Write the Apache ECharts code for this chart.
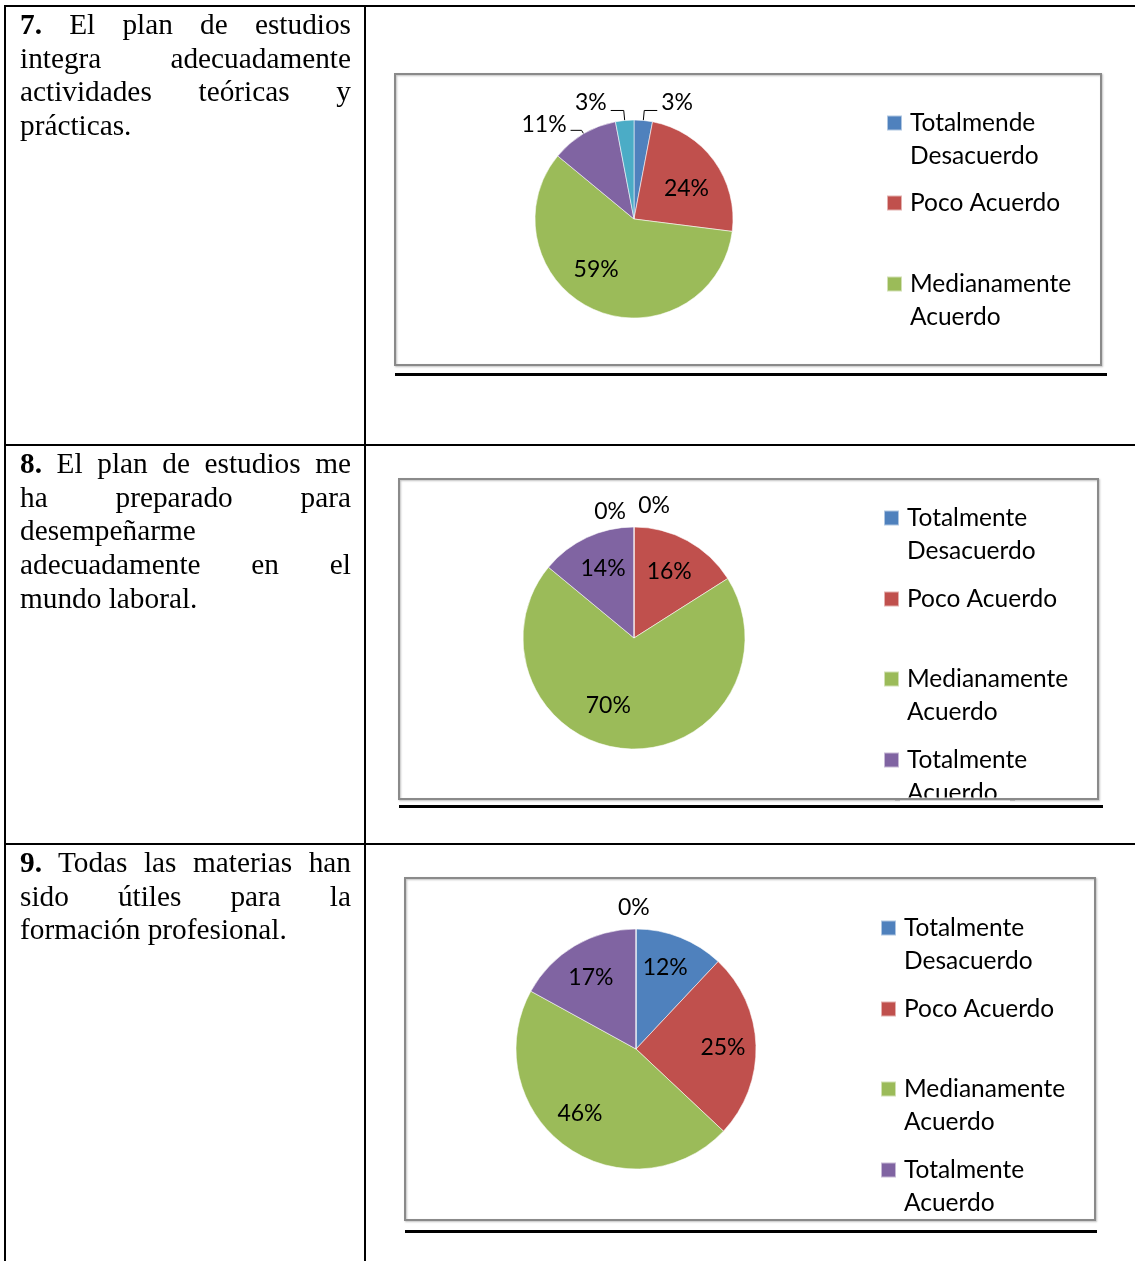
<!DOCTYPE html>
<html><head><meta charset="utf-8">
<script src="https://cdn.jsdelivr.net/npm/echarts@6/dist/echarts.min.js"></script>
<style>
html,body{margin:0;padding:0;background:#fff;}
#chart{position:absolute;left:0;top:0;width:1135px;height:1261px;}
.q{position:absolute;left:20px;width:331px;font-family:"Liberation Serif","Times New Roman",serif;font-size:29.3px;line-height:33.7px;color:#000;z-index:5;}
.q div{text-align:justify;text-align-last:justify;}
.q div.l{text-align:left;text-align-last:left;}
</style>
</head><body>
<div id="chart"></div>
<div class="q" style="top:8px">
<div><b>7.</b> El plan de estudios</div>
<div>integra adecuadamente</div>
<div>actividades teóricas y</div>
<div class="l">prácticas.</div>
</div>
<div class="q" style="top:447px">
<div><b>8.</b> El plan de estudios me</div>
<div>ha preparado para</div>
<div class="l">desempeñarme</div>
<div>adecuadamente en el</div>
<div class="l">mundo laboral.</div>
</div>
<div class="q" style="top:846px">
<div><b>9.</b> Todas las materias han</div>
<div>sido útiles para la</div>
<div class="l">formación profesional.</div>
</div>
<script>
// ---- data ----
const categories7 = ['Totalmende Desacuerdo','Poco Acuerdo','Medianamente Acuerdo','Totalmente Acuerdo','No responde'];
const categories = ['Totalmente Desacuerdo','Poco Acuerdo','Medianamente Acuerdo','Totalmente Acuerdo','No responde'];
const values7 = [3, 24, 59, 11, 3];
const values8 = [0, 16, 70, 14, 0];
const values9 = [12, 25, 46, 17, 0];
const colors = ['#4F81BD','#C0504D','#9BBB59','#8064A2','#4BACC6'];

// ---- styling helpers ----
const FONT = 'Lato';
const nudge7 = [null, [10,0], [-17,2], null, null];
const nudge8 = [[40,-21],[7,-15],[-22,9],[-6,-16],[-4,-15]];
const nudge9 = [[6,-23],[24,1],[-19,14],[-13,-17],[-22,-21]];

function makeData(names, values, outsideCfg) {
  return values.map((v, i) => {
    const d = { name: names[i], value: v, itemStyle: { color: colors[i] } };
    const o = outsideCfg[i];
    if (o) {
      d.label = { position: 'outside', distanceToLabelLine: 4 };
      if (o.lift) { d.label.formatter = '{c}%\n'; d.label.lineHeight = o.lift * 2; }
      d.labelLine = { show: o.line, length: o.len, length2: o.len2 };
    }
    return d;
  });
}
function pieSeries(center, radius, data, nudge) {
  return {
    type: 'pie', center: center, radius: radius, startAngle: 90, clockwise: true,
    avoidLabelOverlap: false, animation: false,
    itemStyle: { borderColor: 'rgba(255,255,255,0.55)', borderWidth: 1 },
    label: { show: true, position: 'inside', formatter: '{c}%', color: '#000', fontFamily: FONT, fontSize: 23 },
    labelLine: { show: true, lineStyle: { color: '#000', width: 1 } },
    emphasis: { disabled: true },
    labelLayout: function (p) { const n = nudge[p.dataIndex]; return n ? { dx: n[0], dy: n[1] } : undefined; },
    data: data
  };
}
function legendItems(names, labels, left, tops) {
  return tops.map((t, i) => {
    const twoLine = labels[i].indexOf('\n') >= 0;
    const txt = twoLine ? '\n' + labels[i] : labels[i];
    return {
      data: [names[i]], orient: 'vertical', left: left, top: t, padding: 0,
      icon: 'rect', itemWidth: 15, itemHeight: 15, selectedMode: false,
      formatter: () => txt,
      textStyle: { fontFamily: FONT, fontSize: 24.5, lineHeight: 33, color: '#000', padding: [0,0,0,3] }
    };
  });
}

const labels7 = ['Totalmende\nDesacuerdo','Poco Acuerdo','Medianamente\nAcuerdo'];
const labels = ['Totalmente\nDesacuerdo','Poco Acuerdo','Medianamente\nAcuerdo','Totalmente\nAcuerdo'];

const out7 = [
  { lift: 8, line: true, len: 10, len2: 13 }, null, null,
  { lift: 6, line: true, len: 4, len2: 11 },
  { lift: 8, line: true, len: 10, len2: 13 }
];
const out8 = [{ line: false, len: 0, len2: 0 }, null, null, null, { line: false, len: 0, len2: 0 }];
const out9 = [null, null, null, null, { line: false, len: 0, len2: 0 }];

const blk = { stroke: '#000', lineWidth: 2 };
const boxStyle = { fill: 'none', stroke: '#8a8a8a', lineWidth: 2, shadowColor: 'rgba(0,0,0,0.25)', shadowBlur: 2, shadowOffsetX: 1, shadowOffsetY: 1 };
const graphic = [
  { type: 'line', shape: { x1: 4, y1: 6, x2: 1135, y2: 6 }, style: blk },
  { type: 'line', shape: { x1: 5, y1: 5, x2: 5, y2: 1261 }, style: blk },
  { type: 'line', shape: { x1: 365, y1: 5, x2: 365, y2: 1261 }, style: blk },
  { type: 'line', shape: { x1: 4, y1: 445, x2: 1135, y2: 445 }, style: blk },
  { type: 'line', shape: { x1: 4, y1: 844, x2: 1135, y2: 844 }, style: blk },
  { type: 'rect', shape: { x: 395, y: 74, width: 706, height: 291 }, style: boxStyle },
  { type: 'rect', shape: { x: 399, y: 479, width: 699, height: 320 }, style: boxStyle },
  { type: 'rect', shape: { x: 405, y: 878, width: 690, height: 342 }, style: boxStyle },
  // clip of the last legend line of chart 2 at the frame bottom
  { type: 'rect', z: 100, shape: { x: 900, y: 797.5, width: 110, height: 7 }, style: { fill: '#fff' } },
  { type: 'line', z: 101, shape: { x1: 895, y1: 799, x2: 1015, y2: 799 }, style: { stroke: '#8a8a8a', lineWidth: 2 } },
  { type: 'line', z: 101, shape: { x1: 895, y1: 800.5, x2: 1015, y2: 800.5 }, style: { stroke: 'rgba(0,0,0,0.15)', lineWidth: 1 } },
  { type: 'line', z: 101, shape: { x1: 395, y1: 374.5, x2: 1107, y2: 374.5 }, style: { stroke: '#000', lineWidth: 3 } },
  { type: 'line', z: 101, shape: { x1: 399, y1: 806.5, x2: 1103, y2: 806.5 }, style: { stroke: '#000', lineWidth: 3 } },
  { type: 'line', z: 101, shape: { x1: 405, y1: 1231.5, x2: 1097, y2: 1231.5 }, style: { stroke: '#000', lineWidth: 3 } }
];

const chart = echarts.init(document.getElementById('chart'));
chart.setOption({
  backgroundColor: '#fff',
  animation: false,
  color: colors,
  graphic: graphic,
  legend: [].concat(
    legendItems(categories7, labels7, 886, [73.5, 186.5, 234.5]),
    legendItems(categories, labels, 883, [468.5, 582.5, 629.5, 710.5]),
    legendItems(categories, labels, 880, [878.5, 992.5, 1039.5, 1120.5])
  ),
  series: [
    pieSeries([634, 219], 99, makeData(categories7, values7, out7), nudge7),
    pieSeries([634, 638], 111, makeData(categories, values8, out8), nudge8),
    pieSeries([636, 1049], 120, makeData(categories, values9, out9), nudge9)
  ]
});
</script>
</body></html>
